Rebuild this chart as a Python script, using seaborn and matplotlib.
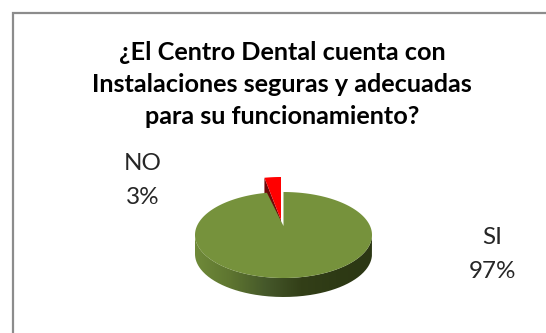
import numpy as np
import matplotlib
matplotlib.use("Agg")
import matplotlib.pyplot as plt
from matplotlib.colors import LinearSegmentedColormap
from matplotlib.patches import PathPatch
from matplotlib.path import Path
import seaborn as sns

# Survey answers
categories = ["SI", "NO"]
shares = [97, 3]
slice_colors = ["#76923C", "#FF0000"]
title_lines = [
    "¿El Centro Dental cuenta con",
    "Instalaciones seguras y adecuadas",
    "para su funcionamiento?",
]

sns.set_theme(style="white", palette=sns.color_palette(slice_colors))
plt.rcParams["font.family"] = ["Lato", "DejaVu Sans"]

W, H = 546, 333
fig = plt.figure(figsize=(W / 100, H / 100), dpi=100)
ax = fig.add_axes([0, 0, 1, 1])
ax.set_xlim(0, W)
ax.set_ylim(H, 0)
ax.axis("off")

# Chart frame, open at the right and bottom
ax.plot([13, 13, W], [H, 12.5, 12.5], color="#8C8C8C", lw=1.6, solid_joinstyle="miter")

# Pie geometry in pixels
cx, cy, rx, ry, depth = 283.5, 235, 88.5, 43, 19


def rim(a0, a1, n=240):
    """Ellipse points for clockwise angles (degrees from twelve o'clock)."""
    t = np.radians(np.linspace(a0, a1, n))
    return np.column_stack([cx + rx * np.sin(t), cy - ry * np.cos(t)])


# Front wall of the disc, shaded from left to right
front = rim(90, 270, 200)[::-1]
wall = np.vstack([front, (front + [0, depth])[::-1]])
wall_patch = PathPatch(Path(wall), fc="none", ec="none")
ax.add_patch(wall_patch)
shade = LinearSegmentedColormap.from_list(
    "wall", ["#6F8A39", "#5E7530", "#45582A", "#333F18", "#2E3A15", "#2C3714"]
)
img = ax.imshow(
    np.linspace(0, 1, 256)[None, :],
    cmap=shade,
    extent=[cx - rx, cx + rx, cy + ry + depth, cy - 5],
    aspect="auto",
    zorder=1,
)
img.set_clip_path(wall_patch)
ax.set_xlim(0, W)
ax.set_ylim(H, 0)

# Slice angles follow the shares, clockwise from twelve o'clock
si_span = 360 * shares[0] / sum(shares)

# Top face of the large slice; its tip sits just behind the disc centre
notch_tip = np.array([[cx, cy - 9]])
green_top = np.vstack([rim(0, si_span), notch_tip])
ax.fill(green_top[:, 0], green_top[:, 1], color=slice_colors[0], lw=0, zorder=3)

# Pulled-out slice: dark cut face behind the disc, red top face in front
dx, dy = -2.5, -15
mouth = rim(si_span, 360, 30) + [dx, dy]
apex = np.array([[cx + dx, cy + dy]])
cut = np.vstack([apex, mouth[0], mouth[0] + [0, depth], apex + [0, depth]])
ax.fill(cut[:, 0], cut[:, 1], color="#6E0808", lw=0, zorder=2)
red_top = np.vstack([mouth, apex])
ax.fill(red_top[:, 0], red_top[:, 1], color=slice_colors[1], lw=0, zorder=5)

# Title and data labels
for line, y in zip(title_lines, [52, 84, 116]):
    ax.text(282, y, line, ha="center", va="center", fontsize=18.2, fontweight="bold", color="black")
for text, x, y in [
    (categories[1], 143, 164),
    (f"{shares[1]}%", 143, 198),
    (categories[0], 492, 238),
    (f"{shares[0]}%", 492, 271),
]:
    ax.text(x, y, text, ha="center", va="center", fontsize=17.5, color="#262626")

fig.savefig("out.png", dpi=100)
